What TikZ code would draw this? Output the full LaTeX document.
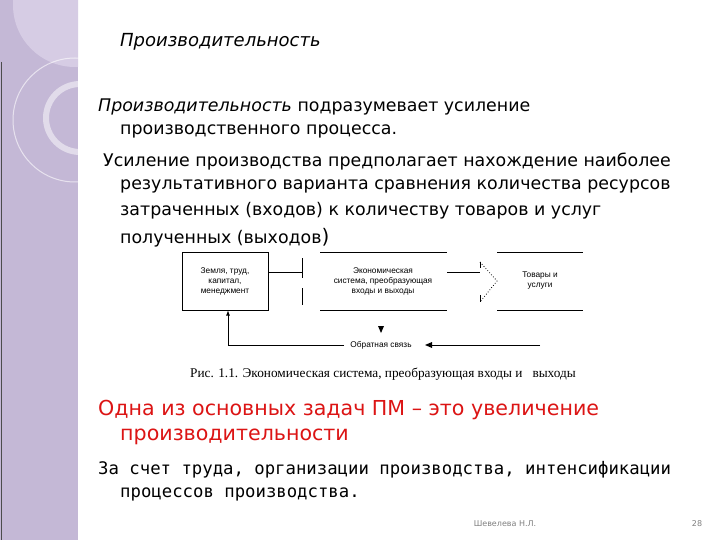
\documentclass[tikz,border=0pt]{standalone}
\usepackage{fontspec}
\setmainfont{DejaVu Sans}
\newfontfamily\capfont{Liberation Serif}
\newfontfamily\monof{DejaVu Sans Mono}
\newfontfamily\smallsans{Liberation Sans}
\definecolor{band}{RGB}{196,184,214}
\definecolor{bandlt}{RGB}{214,204,228}
\definecolor{redt}{RGB}{220,20,20}
\begin{document}
\begin{tikzpicture}[x=1pt,y=-1pt,
  body/.style={anchor=west,font=\fontsize{17.4}{21}\selectfont,inner sep=0},
  dtxt/.style={font=\smallsans\fontsize{8.3}{10}\selectfont,align=center,inner sep=0},
  ln/.style={line width=0.8pt}]
\useasboundingbox (0,0) rectangle (720,540);
\fill[white] (0,0) rectangle (720,540);
\fill[band] (0,0) rectangle (78,540);
\begin{scope}
\clip (0,0) rectangle (78,540);
\fill[bandlt] (75,5) circle (62);
\end{scope}
\draw[white,opacity=0.6,line width=1pt] (75,120) circle (62);
\draw[white,opacity=0.5,line width=6pt] (80,118) circle (34);
\draw[black!70] (1,62) -- (1,540);
% texts
\node[anchor=west,inner sep=0,font=\itshape\fontsize{18}{22}\selectfont] (t) at (120,42) {Производительность};
\node[body] (p1) at (98,107) {\textit{Производительность} подразумевает усиление};
\node[body] (p1b) at (120,131) {производственного процесса.};
\node[body] (p2) at (103,162) {Усиление производства предполагает нахождение наиболее};
\node[body] (p2b) at (120,186) {результативного варианта сравнения количества ресурсов};
\node[body] (p2c) at (120,211) {затраченных (входов) к количеству товаров и услуг};
\node[body] (p2d) at (120,238) {полученных (выходов{\fontsize{20}{20}\selectfont)}};
% diagram
\node[draw,ln,minimum width=86,minimum height=58,dtxt] (b1) at (225,281) {Земля, труд,\\капитал,\\менеджмент};
\node[dtxt] (b2) at (383,281) {Экономическая\\система, преобразующая\\входы и выходы};
\draw[ln] (320,252) -- (447,252) (320,310) -- (447,310);
\node[dtxt] (b3) at (540,281) {Товары и\\услуги};
\draw[ln] (497,252) -- (583,252) (497,310) -- (583,310);
\coordinate (v1) at (302,272);
\draw[ln] (b1.east|-v1) -- (v1);
\draw[ln] (302,258) -- (302,278) (302,288) -- (302,305);
\coordinate (r1) at (447,272);
\coordinate (r2) at (480,272);
\draw[ln] (r1) -- (r2);
\draw[dotted,thick] (480,262) -- (497,281) -- (480,302);
\draw[ln] (480,262) -- (480,268) (480,295) -- (480,302);
\node[dtxt] (fb) at (381,345) {Обратная связь};
\fill (378,326) -- (384,326) -- (381,333) -- cycle;
\coordinate (fl) at (228,345);
\draw[ln,-{latex}] (fb.west) ++(-6,0) -- (fl) -- (b1.south-|fl);
\coordinate (fr) at (540,345);
\draw[ln] (fr) -- (432,345);
\fill (425,345) -- (432,342) -- (432,348) -- cycle;
\node[font=\capfont\fontsize{13.3}{15}\selectfont,inner sep=0] (cap) at (383,374) {Рис. 1.1. Экономическая система, преобразующая входы и \ \ выходы};
% red
\node[body,text=redt,font=\fontsize{20.6}{24}\selectfont] (r1t) at (98,410) {Одна из основных задач ПМ – это увеличение};
\node[body,text=redt,font=\fontsize{20.6}{24}\selectfont] (r2t) at (120,437) {производительности};
\node[body,font=\monof\fontsize{17.3}{20}\selectfont] (m1) at (98,470) {За счет труда, организации производства, интенсификации};
\node[body,font=\monof\fontsize{17.3}{20}\selectfont] (m2) at (120,494) {процессов производства.};
\node[inner sep=0,text=black!50,font=\fontsize{8}{10}\selectfont] (f1) at (505,524) {Шевелева Н.Л.};
\node[inner sep=0,text=black!50,font=\fontsize{8}{10}\selectfont] (f2) at (697,524) {28};
\end{tikzpicture}
\end{document}
